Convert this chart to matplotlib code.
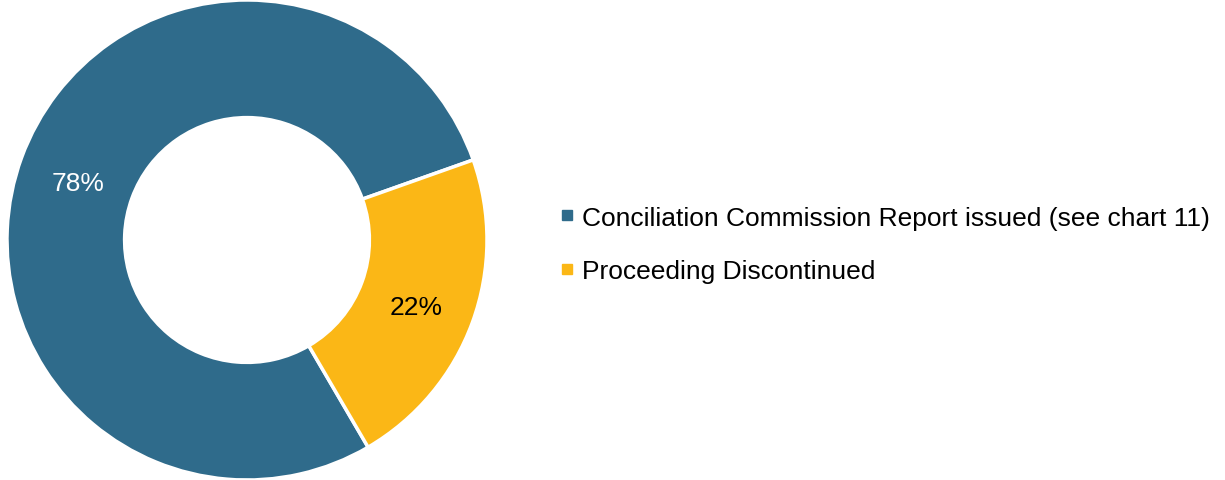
import matplotlib

matplotlib.use("Agg")

import matplotlib.pyplot as plt
import numpy as np
from matplotlib.lines import Line2D

plt.rcParams["font.family"] = ["Liberation Sans", "DejaVu Sans"]

labels = ["Conciliation Commission Report issued (see chart 11)", "Proceeding Discontinued"]
values = [78, 22]
pct_labels = ["78%", "22%"]
colors = ["#2F6B8B", "#FBB716"]
text_colors = ["white", "black"]

W, H = 1225, 481
fig = plt.figure(figsize=(W / 100, H / 100), dpi=100)

# donut centre ~ (247, 241) px, outer radius ~240 px
cx, cy, r = 247, 241, 240
ax = fig.add_axes([(cx - r) / W, (H - cy - r) / H, 2 * r / W, 2 * r / H])

wedges, _ = ax.pie(values, colors=colors, startangle=-59.7, counterclock=False,
                   radius=1.0, wedgeprops=dict(width=0.49, edgecolor="white", linewidth=2.5))
ax.set_xlim(-1, 1)
ax.set_ylim(-1, 1)
ax.set_aspect("equal")
ax.axis("off")

# percentage labels in the middle of each ring segment
for w, txt, tc in zip(wedges, pct_labels, text_colors):
    mid = np.deg2rad((w.theta1 + w.theta2) / 2)
    ax.text(0.75 * np.cos(mid), 0.75 * np.sin(mid) - 0.022, txt, ha="center", va="center",
            color=tc, fontsize=19)

handles = [Line2D([], [], marker="s", linestyle="none", markersize=7,
                  markerfacecolor=c, markeredgecolor=c) for c in colors]
fig.legend(handles, labels, loc="center left", bbox_to_anchor=(549 / W, 1 - 245.5 / H),
           frameon=False, fontsize=19, handlelength=0.55, handletextpad=0.3,
           labelspacing=1.13, borderaxespad=0)

fig.savefig("out.png", dpi=100)
